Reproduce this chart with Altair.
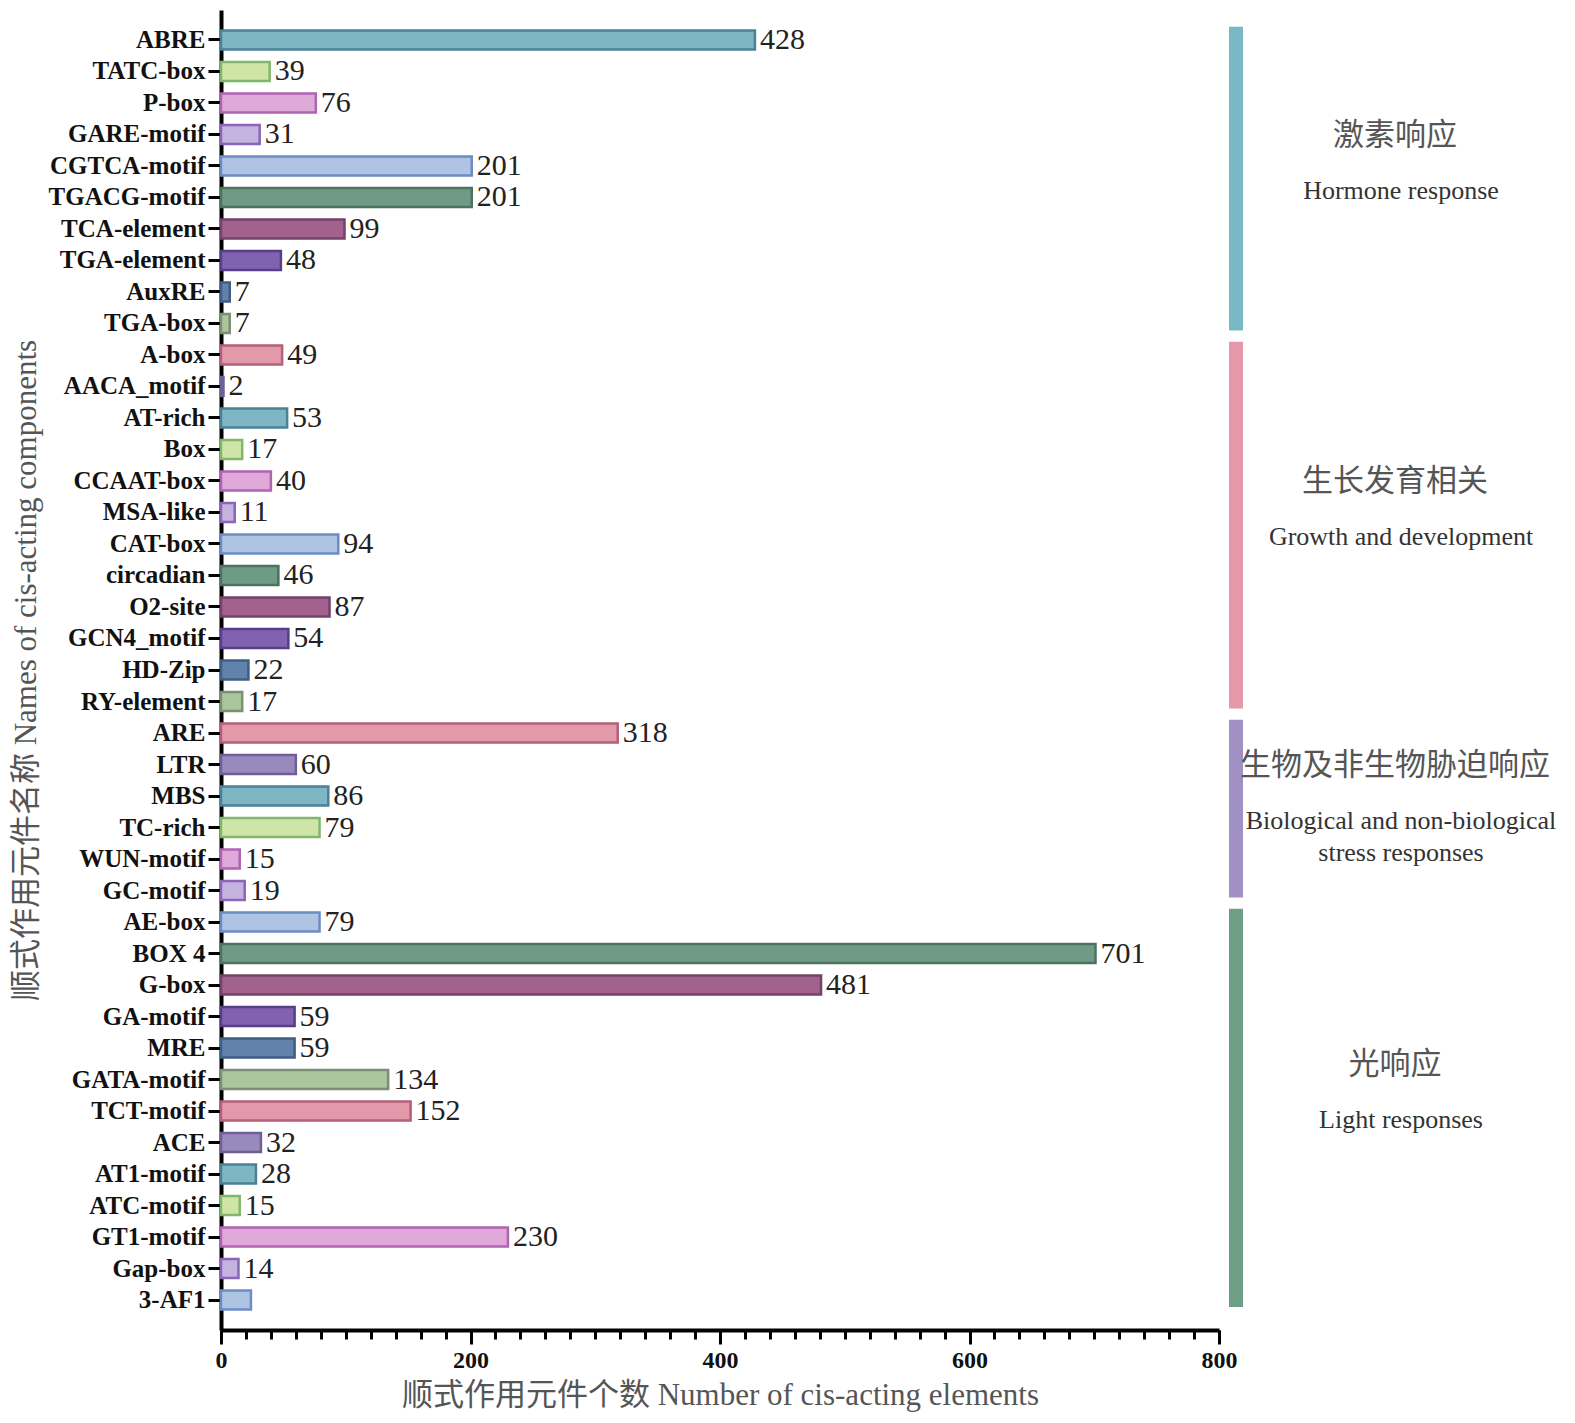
import altair as alt
import pandas as pd

names = ["ABRE", "TATC-box", "P-box", "GARE-motif", "CGTCA-motif", "TGACG-motif",
         "TCA-element", "TGA-element", "AuxRE", "TGA-box",
         "A-box", "AACA_motif", "AT-rich", "Box", "CCAAT-box", "MSA-like", "CAT-box",
         "circadian", "O2-site", "GCN4_motif", "HD-Zip", "RY-element",
         "ARE", "LTR", "MBS", "TC-rich", "WUN-motif", "GC-motif",
         "AE-box", "BOX 4", "G-box", "GA-motif", "MRE", "GATA-motif", "TCT-motif",
         "ACE", "AT1-motif", "ATC-motif", "GT1-motif", "Gap-box", "3-AF1"]
values = [428, 39, 76, 31, 201, 201, 99, 48, 7, 7,
          49, 2, 53, 17, 40, 11, 94, 46, 87, 54, 22, 17,
          318, 60, 86, 79, 15, 19,
          79, 701, 481, 59, 59, 134, 152, 32, 28, 15, 230, 14, 24]
unlabeled = ["3-AF1"]

group_cn = ["激素响应", "生长发育相关", "生物及非生物胁迫响应", "光响应"]
group_en = ["Hormone response", "Growth and development",
            "Biological and non-biological\nstress responses", "Light responses"]
group_sizes = [10, 12, 6, 13]

fills = ["#7fb6c4", "#cfe5a8", "#dfaad9", "#c4b2df", "#afc3e3", "#6f9b86",
         "#a3618e", "#8062b0", "#6182aa", "#abc59c", "#e29aab", "#9a89bd"]
strokes = ["#4b8196", "#80b86b", "#b062b3", "#8a66b8", "#6c8cc4", "#4b735f",
           "#74436a", "#573f87", "#3f5e85", "#7a8f76", "#b5607a", "#6e6096"]
group_colors = ["#79b8c5", "#e598aa", "#a190c4", "#6f9e87"]

SERIF = "Liberation Serif, Noto Sans CJK SC"
PAD_OUT = 0.45
W, H = 998, 1320

n = len(names)
df = pd.DataFrame({
    "name": names,
    "value": values,
    "cidx": [i % len(fills) for i in range(n)],
    "label": ["" if nm in unlabeled else str(v) for nm, v in zip(names, values)],
})

starts = []
s = 0
for size in group_sizes:
    starts.append(s)
    s += size
gdf = pd.DataFrame({
    "cn": group_cn,
    "en": group_en,
    "lo": [st - 0.42 for st in starts],
    "hi": [st + sz - 1 + 0.22 for st, sz in zip(starts, group_sizes)],
    "mid": [st + (sz - 1) / 2 for st, sz in zip(starts, group_sizes)],
    "g": list(range(len(group_cn))),
})

band = alt.Scale(type="band", paddingInner=0, paddingOuter=PAD_OUT)
y_axis = alt.Axis(
    title="顺式作用元件名称 Names of cis-acting components",
    labelFont="Liberation Serif", labelFontWeight="bold", labelFontSize=25,
    labelColor="#111", labelPadding=3, labelLimit=400,
    tickSize=13, tickWidth=3, tickColor="black",
    domainWidth=4, domainColor="black",
    titleFont=SERIF, titleFontSize=31, titleFontWeight="normal",
    titleColor="#555", titlePadding=6,
)
x_major = alt.Axis(
    values=[0, 200, 400, 600, 800], orient="bottom", grid=False, labelFlush=False,
    labelFont="Liberation Serif", labelFontWeight="bold", labelFontSize=24,
    labelColor="#111", labelPadding=4,
    tickSize=14, tickWidth=3, tickColor="black",
    domainWidth=4, domainColor="black",
    title="顺式作用元件个数 Number of cis-acting elements",
    titleFont=SERIF, titleFontSize=31, titleFontWeight="normal",
    titleColor="#555", titlePadding=8,
)
x_minor = alt.Axis(
    values=list(range(0, 801, 20)), orient="bottom", grid=False,
    labels=False, domain=False, tickSize=9, tickWidth=3, tickColor="black",
    title=None,
)
xscale = alt.Scale(domain=[0, 800], nice=False)

bars = alt.Chart(df).mark_bar(height={"band": 0.6}, strokeWidth=2.5).encode(
    x=alt.X("value:Q", scale=xscale, axis=x_major),
    y=alt.Y("name:N", sort=None, scale=band, axis=y_axis),
    fill=alt.Fill("cidx:N", scale=alt.Scale(domain=list(range(len(fills))), range=fills), legend=None),
    stroke=alt.Stroke("cidx:N", scale=alt.Scale(domain=list(range(len(strokes))), range=strokes), legend=None),
)

labels = alt.Chart(df).mark_text(
    align="left", baseline="middle", dx=5, font="Liberation Serif",
    fontSize=30, color="#222",
).encode(
    x=alt.X("value:Q", scale=xscale, axis=x_minor),
    y=alt.Y("name:N", sort=None, scale=band, axis=None, bandPosition=0.5),
    text="label:N",
)

qscale = alt.Scale(domain=[-0.5 - PAD_OUT, n - 0.5 + PAD_OUT], reverse=True, nice=False, zero=False)

grect = alt.Chart(gdf).mark_rect().encode(
    x=alt.value(W + 10), x2=alt.value(W + 24),
    y=alt.Y("lo:Q", scale=qscale, axis=None), y2="hi:Q",
    fill=alt.Fill("g:N", scale=alt.Scale(domain=list(range(len(group_colors))), range=group_colors), legend=None),
)

gcn = alt.Chart(gdf).mark_text(
    font=SERIF, fontSize=31, color="#555", align="center", baseline="middle", dy=-46,
).encode(
    x=alt.value(W + 176),
    y=alt.Y("mid:Q", scale=qscale, axis=None),
    text="cn:N",
)

gen = alt.Chart(gdf).mark_text(
    font="Liberation Serif", fontSize=26, color="#333", align="center",
    baseline="top", dy=-4, lineBreak="\n", lineHeight=32,
).encode(
    x=alt.value(W + 182),
    y=alt.Y("mid:Q", scale=qscale, axis=None),
    text="en:N",
)

chart = alt.layer(bars, labels, grect, gcn, gen).resolve_scale(
    y="independent", fill="independent"
).resolve_axis(x="independent").properties(
    width=W, height=H,
    padding={"left": 2, "top": 2, "right": 2, "bottom": 5},
    background="white",
).configure_view(stroke=None)

chart.save("out.html", embed_options={"renderer": "svg", "actions": False})
